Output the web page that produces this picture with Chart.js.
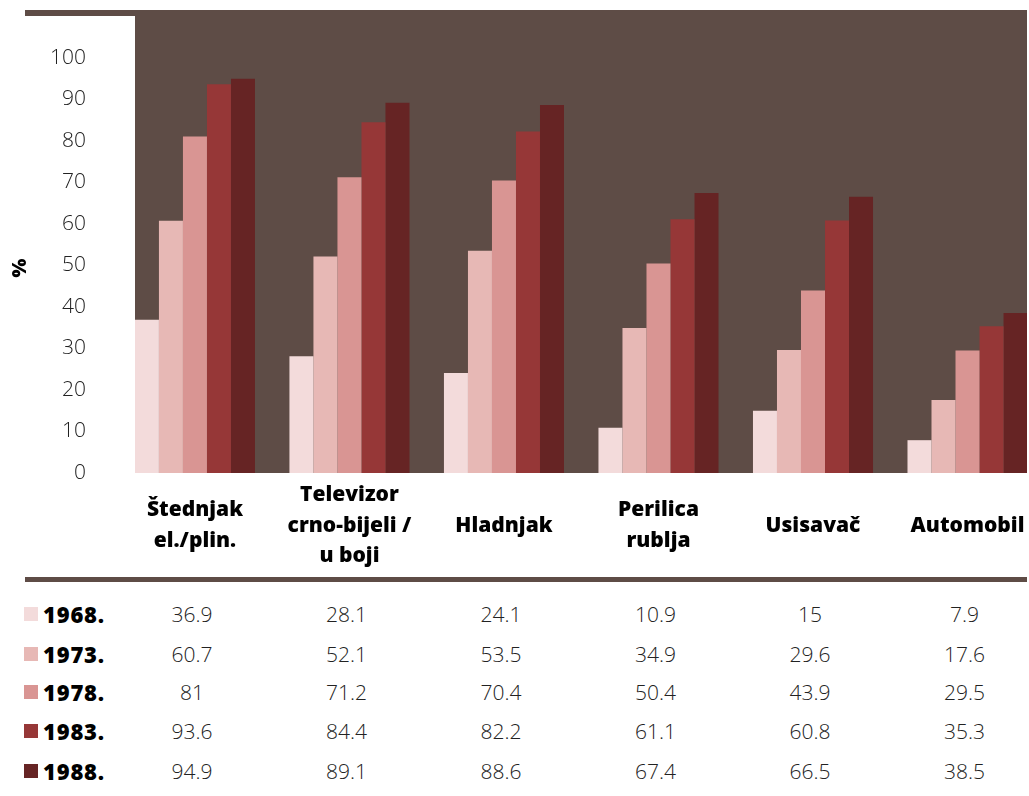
<!DOCTYPE html>
<html>
<head>
<meta charset="utf-8">
<script src="https://cdn.jsdelivr.net/npm/chart.js@4.4.1/dist/chart.umd.min.js"></script>
<style>
  body { margin: 0; background: #fff; font-family: "Open Sans", Lato, sans-serif; }
  #wrap { position: relative; width: 1029px; height: 796px; overflow: hidden; }
  #chartBox { position: absolute; left: 0; top: 0; width: 1029px; height: 590px; }
  .cell { position: absolute; font-size: 21px; font-weight: 300; color: #222; transform: translate(-50%, -50%); white-space: nowrap; }
  .lab { position: absolute; font-size: 22px; font-weight: 800; color: #000; transform: translateY(-50%); white-space: nowrap; letter-spacing: 0.8px; }
  .sw { position: absolute; width: 14px; height: 14px; transform: translateY(-50%); }
</style>
</head>
<body>
<div id="wrap">
  <div id="chartBox"><canvas id="chart"></canvas></div>
  <div id="table"></div>
</div>
<script>
// data
const categories = [
  ["Štednjak", "el./plin."],
  ["Televizor", "crno-bijeli /", "u boji"],
  ["Hladnjak"],
  ["Perilica", "rublja"],
  ["Usisavač"],
  ["Automobil"],
];
const years = ["1968.", "1973.", "1978.", "1983.", "1988."];
const v1968 = [36.9, 28.1, 24.1, 10.9, 15, 7.9];
const v1973 = [60.7, 52.1, 53.5, 34.9, 29.6, 17.6];
const v1978 = [81, 71.2, 70.4, 50.4, 43.9, 29.5];
const v1983 = [93.6, 84.4, 82.2, 61.1, 60.8, 35.3];
const v1988 = [94.9, 89.1, 88.6, 67.4, 66.5, 38.5];
const yTicks = [0, 10, 20, 30, 40, 50, 60, 70, 80, 90, 100];

const series = [v1968, v1973, v1978, v1983, v1988];
const colors = ["#f3dbdb", "#e7b8b5", "#d99593", "#963737", "#662424"];
const bgColor = "#5e4c46";

// background: top band, plot fill, bottom rule
const backdrop = {
  id: "backdrop",
  beforeDraw(chart) {
    const { ctx, chartArea } = chart;
    ctx.save();
    ctx.fillStyle = bgColor;
    ctx.fillRect(25, 10, 1002, 6);
    ctx.fillRect(chartArea.left, chartArea.top, chartArea.right - chartArea.left, chartArea.bottom - chartArea.top);
    ctx.fillRect(25, 577, 1002, 5);
    ctx.restore();
  },
};

// "%" axis label, sits a bit below the middle of the axis
const yLabel = {
  id: "yLabel",
  afterDraw(chart) {
    const { ctx } = chart;
    ctx.save();
    ctx.translate(20, 268);
    ctx.rotate(-Math.PI / 2);
    ctx.fillStyle = "#000";
    ctx.font = "800 20px 'Open Sans'";
    ctx.textAlign = "center";
    ctx.textBaseline = "middle";
    ctx.fillText("%", 0, 0);
    ctx.restore();
  },
};

const chart = new Chart(document.getElementById("chart"), {
  type: "bar",
  data: {
    datasets: series.map((vals, k) => ({
      label: years[k],
      data: vals.map((v, i) => ({ x: i, y: v })),
      backgroundColor: colors[k],
      categoryPercentage: 0.777,
      barPercentage: 1,
    })),
  },
  options: {
    responsive: true,
    maintainAspectRatio: false,
    animation: false,
    layout: { padding: { top: 16, right: 2, left: 0, bottom: 0 } },
    plugins: { legend: { display: false }, tooltip: { enabled: false } },
    scales: {
      x: {
        type: "linear",
        min: -0.388,
        max: 5.385,
        offset: false,
        grid: { display: false },
        border: { display: false },
        afterBuildTicks: (s) => { s.ticks = categories.map((c, i) => ({ value: i })); },
        afterFit: (s) => { s.height = 117; s.paddingLeft = 0; s.paddingRight = 0; },
        ticks: {
          autoSkip: false,
          maxRotation: 0,
          crossAlign: "center",
          padding: 14,
          color: "#000",
          font: { family: "Open Sans", size: 21, weight: 800, lineHeight: 1.46 },
          callback: (v) => categories[v],
        },
      },
      y: {
        min: 0,
        max: 110,
        grid: { display: false },
        border: { display: false },
        afterBuildTicks: (s) => { s.ticks = yTicks.map((v) => ({ value: v })); },
        afterFit: (s) => { s.width = 135; s.paddingTop = 0; s.paddingBottom = 0; },
        ticks: {
          padding: 41,
          color: "#222",
          font: { family: "Open Sans", size: 21, weight: 300 },
        },
      },
    },
  },
  plugins: [backdrop, yLabel],
});

// data table under the chart
const table = document.getElementById("table");
const rowY = [614, 654, 692, 731, 771];
series.forEach((vals, k) => {
  const sw = document.createElement("div");
  sw.className = "sw";
  sw.style.left = "24px";
  sw.style.top = rowY[k] + "px";
  sw.style.background = colors[k];
  table.appendChild(sw);

  const lab = document.createElement("div");
  lab.className = "lab";
  lab.style.left = "43px";
  lab.style.top = rowY[k] + "px";
  lab.textContent = years[k];
  table.appendChild(lab);

  vals.forEach((v, i) => {
    const c = document.createElement("div");
    c.className = "cell";
    c.style.left = chart.scales.x.getPixelForValue(i) - 3 + "px";
    c.style.top = rowY[k] + "px";
    c.textContent = String(v);
    table.appendChild(c);
  });
});
</script>
</body>
</html>
